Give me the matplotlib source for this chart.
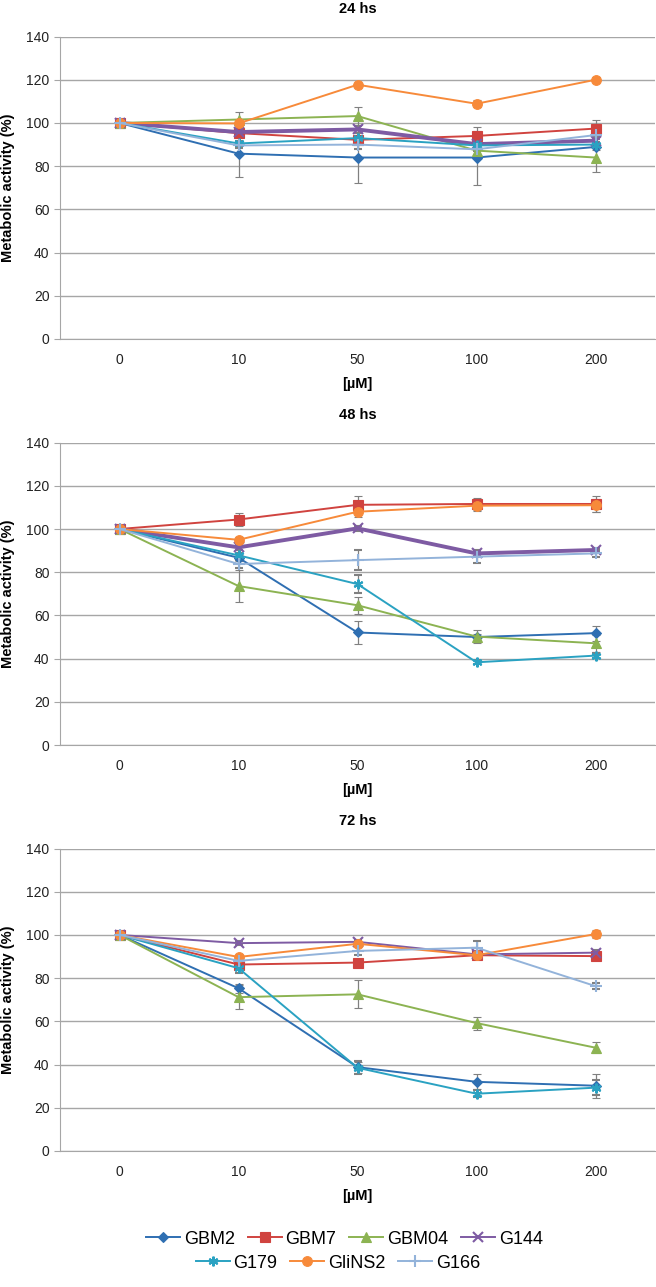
import numpy as np
import matplotlib

matplotlib.use("Agg")
import matplotlib.pyplot as plt
from matplotlib.lines import Line2D

plt.rcParams["font.family"] = ["Liberation Sans", "DejaVu Sans"]

doses = ["0", "10", "50", "100", "200"]
series = ["GBM2", "GBM7", "GBM04", "G144", "G179", "GliNS2", "G166"]
colors = ["#2F6FB2", "#D0433F", "#8CB352", "#7E5BA3", "#2AA2C2", "#F78A3A", "#93B3DA"]
markers = ["D", "s", "^", "x", (6, 2, 0), "o", "+"]
marker_sizes = [5, 6.5, 6.5, 7, 7, 7, 8]
thin_markers = ["x", "+"]

# 24 hs
v24 = {
    "GBM2": [100, 85.8, 84.0, 84.0, 88.9],
    "GBM7": [100, 95.3, 92.2, 94.0, 97.4],
    "GBM04": [100, 101.6, 103.2, 87.2, 84.0],
    "G144": [100, 95.8, 97.0, 90.2, 91.8],
    "G179": [100, 90.5, 93.0, 89.6, 90.0],
    "GliNS2": [100, 99.8, 117.7, 108.9, 120.0],
    "G166": [100, 89.6, 90.0, 87.8, 94.4],
}
e24 = {
    "GBM2": [0, 11.0, 12.0, 12.5, 1.5],
    "GBM7": [0, 1.5, 1.5, 4.0, 4.0],
    "GBM04": [0, 3.5, 4.0, 2.0, 6.5],
    "G144": [0, 1.0, 1.5, 1.0, 1.0],
    "G179": [0, 1.0, 1.0, 1.0, 1.0],
    "GliNS2": [0, 1.0, 1.0, 1.5, 1.2],
    "G166": [0, 1.0, 2.0, 1.0, 1.0],
}
# 48 hs
v48 = {
    "GBM2": [100, 86.7, 52.1, 50.0, 51.8],
    "GBM7": [100, 104.4, 111.2, 111.6, 111.6],
    "GBM04": [100, 73.6, 64.7, 50.2, 47.1],
    "G144": [100, 91.5, 100.3, 88.7, 90.3],
    "G179": [100, 87.8, 74.5, 38.3, 41.4],
    "GliNS2": [100, 95.0, 108.0, 110.8, 111.0],
    "G166": [100, 83.8, 85.6, 87.2, 88.7],
}
e48 = {
    "GBM2": [0, 1.5, 5.5, 1.5, 3.5],
    "GBM7": [0, 3.0, 4.0, 2.8, 3.8],
    "GBM04": [0, 7.5, 4.0, 3.0, 4.0],
    "G144": [0, 1.0, 1.0, 1.0, 1.0],
    "G179": [0, 1.0, 4.0, 1.0, 1.0],
    "GliNS2": [0, 1.5, 2.5, 2.5, 3.0],
    "G166": [0, 2.0, 4.8, 3.0, 1.5],
}
# 72 hs
v72 = {
    "GBM2": [100, 75.3, 38.8, 32.0, 30.2],
    "GBM7": [100, 86.3, 87.2, 90.6, 90.2],
    "GBM04": [100, 71.2, 72.5, 59.2, 47.8],
    "G144": [100, 96.2, 96.8, 91.0, 91.8],
    "G179": [100, 84.6, 38.5, 26.5, 29.3],
    "GliNS2": [100, 89.8, 95.9, 90.6, 100.4],
    "G166": [100, 88.0, 92.6, 94.1, 76.3],
}
e72 = {
    "GBM2": [0, 2.0, 2.5, 3.5, 5.5],
    "GBM7": [0, 1.0, 1.0, 1.0, 1.0],
    "GBM04": [0, 5.5, 6.5, 3.0, 2.5],
    "G144": [0, 1.0, 1.0, 1.0, 1.0],
    "G179": [0, 2.0, 3.0, 1.5, 3.5],
    "GliNS2": [0, 1.0, 1.0, 1.0, 2.0],
    "G166": [0, 1.0, 2.0, 3.0, 1.5],
}

panels = [("24 hs", v24, e24, 0.7366), ("48 hs", v48, e48, 0.4211), ("72 hs", v72, e72, 0.1057)]
thick_g144 = {"24 hs": 2.8, "48 hs": 2.8, "72 hs": 1.4}


def mew_for(m):
    return 1.5 if (m in thin_markers or isinstance(m, tuple)) else 0.8


fig = plt.figure(figsize=(6.56, 12.87), dpi=100)
x = np.arange(len(doses))

for title, vals, errs, bottom in panels:
    ax = fig.add_axes([0.0915, bottom, 0.907, 0.2350])
    for name, c, m, ms in zip(series, colors, markers, marker_sizes):
        lw = thick_g144[title] if name == "G144" else 1.4
        ax.errorbar(x, vals[name], yerr=errs[name], color=c, lw=lw,
                    marker=m, ms=ms, mew=mew_for(m),
                    ecolor="#808080", elinewidth=0.9, capsize=3, capthick=0.9)
    ax.set_xlim(-0.5, 4.5)
    ax.set_ylim(0, 140)
    ax.set_yticks(range(0, 141, 20))
    ax.set_xticks(x)
    ax.set_xticklabels(doses)
    ax.grid(axis="y", color="#A6A6A6", lw=1.0)
    ax.set_axisbelow(True)
    for s in ("top", "right"):
        ax.spines[s].set_visible(False)
    for s in ("left", "bottom"):
        ax.spines[s].set_color("#A6A6A6")
    ax.tick_params(axis="x", length=0, pad=10, labelsize=10, labelcolor="#222222")
    ax.tick_params(axis="y", length=4, color="#A6A6A6", labelsize=10, labelcolor="#222222")
    ax.set_title(title, fontsize=10.5, fontweight="bold", pad=17)
    ax.set_xlabel("[\u00b5M]", fontsize=10.5, fontweight="bold", labelpad=7)
    ax.set_ylabel("Metabolic activity (%)", fontsize=10.5, fontweight="bold", labelpad=8)

handles = [Line2D([], [], color=c, marker=m, ms=ms, mew=mew_for(m), lw=1.4)
           for c, m, ms in zip(colors, markers, marker_sizes)]
leg_kw = dict(frameon=False, fontsize=13, handlelength=1.9, handletextpad=0.2,
              columnspacing=0.7, borderaxespad=0, borderpad=0)
fig.legend(handles[:4], series[:4], ncol=4, loc="center",
           bbox_to_anchor=(0.525, 1 - 1239 / 1287), **leg_kw)
fig.legend(handles[4:], series[4:], ncol=3, loc="center",
           bbox_to_anchor=(0.515, 1 - 1263 / 1287), **leg_kw)

fig.savefig("out.png", dpi=100)
